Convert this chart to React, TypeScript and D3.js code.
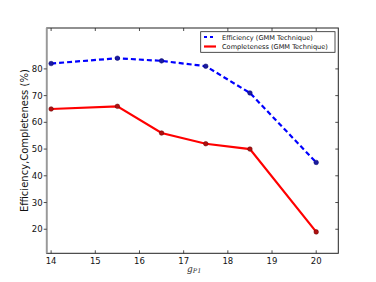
import React from "react";
import * as d3 from "d3";

const xValues = [14, 15.5, 16.5, 17.5, 18.5, 20];
const efficiency = [82, 84, 83, 81, 71, 45];
const completeness = [65, 66, 56, 52, 50, 19];
const xTicks = [14, 15, 16, 17, 18, 19, 20];
const yTicks = [20, 30, 40, 50, 60, 70, 80];
const seriesNames = ["Efficiency (GMM Technique)", "Completeness (GMM Technique)"];

export default function App() {
  const W = 376, H = 282;
  const left = 46.7, right = 338.3, top = 28, bottom = 253.3;
  const x = d3.scaleLinear().domain([13.9, 20.5]).range([left, right]);
  const y = d3.scaleLinear().domain([11, 95.3]).range([bottom, top]);
  const line = d3.line<number>().x((_, i) => x(xValues[i])).y((d) => y(d));
  const font = "DejaVu Sans, sans-serif";
  return (
    <svg width={W} height={H} style={{ position: "absolute", left: 0, top: 0 }}>
      <rect x={0} y={0} width={W} height={H} fill="#fff" />
      <rect x={left} y={top} width={right - left} height={bottom - top} fill="#fff" stroke="#222" strokeWidth={1} />
      <line x1={left} y1={top} x2={left} y2={bottom} stroke="#999" strokeWidth={1.8} />
      {xTicks.map((t) => (
        <g key={"x" + t}>
          <line x1={x(t)} x2={x(t)} y1={bottom} y2={bottom - 3} stroke="#222" strokeWidth={0.8} />
          <line x1={x(t)} x2={x(t)} y1={top} y2={top + 3} stroke="#222" strokeWidth={0.8} />
          <text x={x(t)} y={bottom + 11} fontSize={8.5} fontFamily={font} textAnchor="middle" fill="#111">{t}</text>
        </g>
      ))}
      {yTicks.map((t) => (
        <g key={"y" + t}>
          <line x1={left - 3} x2={left} y1={y(t)} y2={y(t)} stroke="#222" strokeWidth={0.8} />
          <line x1={right} x2={right - 3} y1={y(t)} y2={y(t)} stroke="#222" strokeWidth={0.8} />
          <text x={left - 4} y={y(t) + 3} fontSize={8.5} fontFamily={font} textAnchor="end" fill="#111">{t}</text>
        </g>
      ))}
      <path d={line(efficiency) ?? ""} fill="none" stroke="#0000ff" strokeWidth={2.2} strokeDasharray="5,3" />
      <path d={line(completeness) ?? ""} fill="none" stroke="#ff0000" strokeWidth={2.2} />
      {efficiency.map((v, i) => (
        <circle key={"e" + i} cx={x(xValues[i])} cy={y(v)} r={2.3} fill="#1a1aa0" stroke="#000066" strokeWidth={0.5} />
      ))}
      {completeness.map((v, i) => (
        <circle key={"c" + i} cx={x(xValues[i])} cy={y(v)} r={2.3} fill="#b01010" stroke="#600" strokeWidth={0.5} />
      ))}
      <g>
        <rect x={200.7} y={31.7} width={134.3} height={20.6} fill="#fff" stroke="#222" strokeWidth={0.8} />
        <line x1={204} x2={216} y1={37} y2={37} stroke="#0000ff" strokeWidth={2.2} strokeDasharray="3,3" />
        <line x1={204} x2={216} y1={46.5} y2={46.5} stroke="#ff0000" strokeWidth={2.2} />
        <text x={222} y={39.5} fontSize={6.6} fontFamily={font} fill="#111">{seriesNames[0]}</text>
        <text x={222} y={49} fontSize={6.6} fontFamily={font} fill="#111">{seriesNames[1]}</text>
      </g>
      <text transform={`translate(28,${(top + bottom) / 2}) rotate(-90)`} fontSize={10} fontFamily={font} textAnchor="middle" fill="#111">
        Efficiency,Completeness (%)
      </text>
      <text x={187} y={271.5} fontSize={9} fontFamily="DejaVu Serif, serif" fontStyle="italic" fill="#333">
        g<tspan fontSize={6.5} dy={1.5}>P1</tspan>
      </text>
    </svg>
  );
}
